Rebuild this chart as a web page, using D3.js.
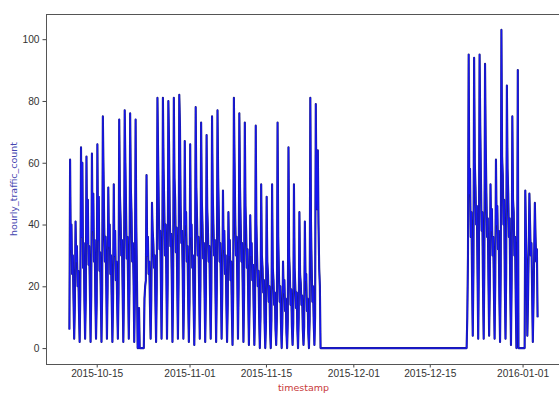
<!DOCTYPE html>
<html>
<head>
<meta charset="utf-8">
<script src="https://cdn.jsdelivr.net/npm/d3@7"></script>
<style>
  body { margin: 0; background: #fff; }
  svg { display: block; font-family: 'DejaVu Sans', sans-serif; }
  .axis path { display: none; }
  .axis line { stroke: #444; }
  .axis text { fill: #333; font-size: 10.2px; }
</style>
</head>
<body>
<div id="chart"></div>
<script>
// hourly_traffic_count, one row per day, samples every 3 hours (00h, 03h, ... 21h)
const sampleStepHours = 3;

const autumnStart = '2015-10-10';
const autumnCounts = [
  [6, 61, 32, 40, 24, 30, 16, 3],    // 10-10
  [14, 41, 28, 33, 20, 25, 12, 2],
  [18, 65, 36, 60, 26, 34, 15, 3],
  [16, 62, 34, 48, 27, 33, 18, 2],
  [17, 63, 38, 50, 28, 35, 16, 3],
  [15, 66, 35, 49, 25, 31, 17, 2],   // 10-15
  [18, 75, 57, 40, 28, 36, 20, 3],
  [20, 52, 33, 40, 24, 30, 15, 2],
  [16, 53, 30, 38, 22, 28, 14, 3],
  [18, 74, 50, 42, 30, 35, 18, 2],
  [20, 77, 60, 45, 29, 36, 20, 3],   // 10-20
  [19, 76, 52, 44, 28, 34, 22, 2],
  [18, 74, 40, 22, 0, 0, 13, 0],
  [0, 0, 0, 0, 0, 0, 16, 20],
  [22, 56, 30, 36, 24, 28, 14, 3],
  [16, 47, 38, 34, 26, 30, 15, 2],   // 10-25
  [20, 81, 62, 45, 32, 38, 22, 3],
  [22, 81, 58, 46, 30, 40, 24, 3],
  [21, 80, 66, 44, 33, 37, 22, 2],
  [20, 81, 55, 48, 31, 39, 20, 3],
  [22, 82, 72, 46, 34, 38, 24, 3],   // 10-30
  [18, 67, 40, 44, 28, 33, 16, 2],
  [15, 66, 36, 40, 26, 30, 14, 1],   // 11-01
  [18, 78, 52, 42, 30, 36, 20, 3],
  [20, 73, 48, 40, 29, 34, 18, 2],
  [18, 69, 45, 38, 28, 33, 17, 3],
  [19, 75, 50, 40, 30, 35, 18, 2],   // 11-05
  [20, 77, 55, 42, 28, 34, 20, 3],
  [18, 51, 32, 38, 24, 30, 14, 2],
  [14, 44, 30, 35, 22, 28, 12, 1],
  [18, 81, 60, 42, 30, 36, 22, 3],
  [20, 76, 52, 40, 28, 34, 18, 2],   // 11-10
  [18, 73, 46, 38, 26, 32, 16, 1],
  [14, 43, 30, 34, 22, 27, 12, 1],
  [12, 72, 40, 30, 20, 25, 10, 0],
  [10, 53, 30, 26, 18, 22, 8, 0],
  [8, 49, 28, 24, 15, 20, 6, 0],     // 11-15
  [9, 53, 26, 22, 14, 18, 6, 1],
  [10, 73, 36, 24, 15, 20, 8, 0],
  [8, 28, 18, 22, 12, 16, 5, 0],
  [9, 65, 30, 24, 14, 19, 7, 1],
  [8, 53, 26, 20, 13, 18, 6, 0],     // 11-20
  [10, 44, 24, 21, 14, 17, 6, 1],
  [7, 41, 22, 24, 12, 16, 5, 0],
  [9, 81, 40, 26, 15, 20, 8, 1],
  [10, 79, 50, 45, 64, 40, 26, 20],
  [0]                                // 11-25, sensor off until 12-21
];

const winterStart = '2015-12-21';
const winterCounts = [
  [0, 0, 0, 0, 0, 0, 0, 10],         // 12-21
  [30, 95, 50, 58, 36, 44, 22, 4],
  [25, 94, 60, 52, 40, 46, 24, 3],
  [28, 95, 72, 55, 38, 44, 20, 3],
  [26, 92, 66, 50, 36, 42, 22, 4],   // 12-25
  [20, 53, 38, 45, 30, 36, 18, 3],
  [22, 61, 40, 46, 32, 38, 16, 2],
  [25, 103, 62, 56, 40, 48, 20, 3],
  [24, 85, 58, 50, 36, 42, 18, 1],
  [22, 75, 48, 44, 30, 36, 15, 0],   // 12-30
  [20, 90, 0, 0, 0, 0, 0, 0],
  [0, 0, 0, 0, 51, 36, 26, 4],       // 01-01
  [16, 32, 50, 40, 30, 34, 18, 2],
  [15, 30, 47, 36, 28, 32, 10]
];

const yTicks = [0, 20, 40, 60, 80, 100];
const xTickDates = ['2015-10-15', '2015-11-01', '2015-11-15', '2015-12-01', '2015-12-15', '2016-01-01'];
const xLabel = 'timestamp';
const yLabel = 'hourly_traffic_count';

/* Format Data */
const parseDay = d3.timeParse('%Y-%m-%d');
function toPoints(start, rows) {
  const day0 = parseDay(start);
  const pts = [];
  rows.forEach((row, d) => {
    row.forEach((v, i) => {
      pts.push({ date: d3.timeHour.offset(day0, d * 24 + i * sampleStepHours), value: v });
    });
  });
  return pts;
}
const data = toPoints(autumnStart, autumnCounts).concat(toPoints(winterStart, winterCounts));

/* Add SVG */
const width = 559;
const height = 393;
const box = { left: 46, right: 561, top: 14, bottom: 364 };

const svg = d3
  .select('#chart')
  .append('svg')
  .attr('width', width)
  .attr('height', height);

/* Scale (5% padding like matplotlib autoscale) */
const [t0, t1] = d3.extent(data, d => d.date);
const tPad = (t1 - t0) * 0.05;
const xScale = d3
  .scaleTime()
  .domain([new Date(+t0 - tPad), new Date(+t1 + tPad)])
  .range([box.left, box.right]);

const [v0, v1] = d3.extent(data, d => d.value);
const vPad = (v1 - v0) * 0.05;
const yScale = d3
  .scaleLinear()
  .domain([v0 - vPad, v1 + vPad])
  .range([box.bottom, box.top]);

/* Add line into SVG */
const line = d3
  .line()
  .x(d => xScale(d.date))
  .y(d => yScale(d.value));

svg
  .append('path')
  .datum(data)
  .attr('d', line)
  .attr('fill', 'none')
  .attr('stroke', '#1c1c78')
  .attr('stroke-width', 2.1)
  .attr('stroke-linejoin', 'round');

svg
  .append('path')
  .datum(data)
  .attr('d', line)
  .attr('fill', 'none')
  .attr('stroke', '#1616ee')
  .attr('stroke-width', 1.3)
  .attr('stroke-linejoin', 'round');

/* Add Axis into SVG */
const xAxis = d3
  .axisBottom(xScale)
  .tickValues(xTickDates.map(parseDay))
  .tickFormat(d3.timeFormat('%Y-%m-%d'))
  .tickSizeOuter(0)
  .tickSize(3.5)
  .tickPadding(2);

const yAxis = d3
  .axisLeft(yScale)
  .tickValues(yTicks)
  .tickSizeOuter(0)
  .tickSize(3.5)
  .tickPadding(3);

svg
  .append('g')
  .attr('class', 'x axis')
  .attr('transform', `translate(0, ${box.bottom})`)
  .call(xAxis);

svg
  .append('g')
  .attr('class', 'y axis')
  .attr('transform', `translate(${box.left}, 0)`)
  .call(yAxis);

// frame (all four spines)
svg
  .append('rect')
  .attr('x', box.left + 0.5)
  .attr('y', box.top + 0.5)
  .attr('width', box.right - box.left)
  .attr('height', box.bottom - box.top)
  .attr('fill', 'none')
  .attr('stroke', '#555')
  .attr('stroke-width', 1);

/* Labels */
svg
  .append('text')
  .attr('x', (box.left + box.right) / 2)
  .attr('y', 391)
  .attr('text-anchor', 'middle')
  .style('font-size', '9.5px')
  .attr('fill', '#c83a3a')
  .text(xLabel);

svg
  .append('text')
  .attr('transform', `translate(17, ${(box.top + box.bottom) / 2}) rotate(-90)`)
  .attr('text-anchor', 'middle')
  .style('font-size', '9.5px')
  .attr('fill', '#4646b0')
  .text(yLabel);
</script>
</body>
</html>
